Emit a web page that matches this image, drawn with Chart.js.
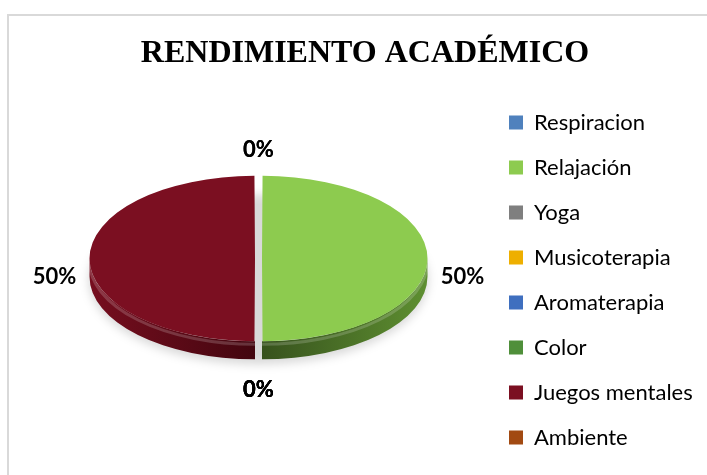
<!DOCTYPE html>
<html>
<head>
<meta charset="utf-8">
<script src="https://cdn.jsdelivr.net/npm/chart.js@4.4.1/dist/chart.umd.min.js"></script>
<style>
  html, body { margin: 0; padding: 0; background: #fff; }
  #wrap { position: relative; width: 707px; height: 475px; overflow: hidden; }
  #frame { position: absolute; left: 7px; top: 14px; width: 720px; height: 480px; border: 2px solid #d9d9d9; box-sizing: border-box; }
  #pieChart { position: absolute; left: 0; top: 0; }
</style>
</head>
<body>
<div id="wrap">
  <div id="frame"></div>
  <canvas id="pieChart" width="707" height="475"></canvas>
</div>
<script>
const chartTitle = 'RENDIMIENTO ACADÉMICO';
const categories = ['Respiracion', 'Relajación', 'Yoga', 'Musicoterapia', 'Aromaterapia', 'Color', 'Juegos mentales', 'Ambiente'];
const values = [0, 50, 0, 0, 0, 0, 50, 0];

// top face colours and the darker side (wall) colours
const sliceColors = ['#4f81bd', '#8dcb4f', '#7f7f7f', '#eeaf00', '#3f6fbf', '#4f8f3a', '#7b0f21', '#a24a12'];
const wallLight = ['#3d6594', '#5e8f31', '#606060', '#b88600', '#2f5694', '#3b6c2b', '#760e1f', '#7c380c'];
const wallDark = ['#2a4668', '#37521d', '#404040', '#7c5a00', '#203b66', '#274a1c', '#43060f', '#542508'];

// fake 3d look
const tilt = 0.5;
const depth = 18;
const lift = 20.75;

const pie3d = {
    id: 'pie3d',
    beforeDatasetsDraw(chart) {
        const ctx = chart.ctx;
        const meta = chart.getDatasetMeta(0);
        const first = meta.data[0];
        const cx = first.x;
        const cy = first.y;
        const ecy = cy - lift;

        // soft shadow under the pie
        ctx.save();
        ctx.filter = 'blur(5px)';
        ctx.fillStyle = 'rgba(0,0,0,0.15)';
        ctx.beginPath();
        const rShadow = first.outerRadius + 8;
        ctx.ellipse(cx, ecy + depth + 3, rShadow, rShadow * tilt, 0, 0, Math.PI * 2);
        ctx.fill();
        ctx.restore();

        // walls (front half only)
        meta.data.forEach((arc, i) => {
            const p = arc.getProps(['x', 'y', 'startAngle', 'endAngle', 'outerRadius', 'circumference']);
            if (!(p.circumference > 0)) return;
            const off = (arc.options.offset || 0) / 4;
            const fix = 1 - Math.sin(Math.min(Math.PI, p.circumference));
            const R = p.outerRadius + off * fix;
            const mid = (p.startAngle + p.endAngle) / 2;
            const ox = p.x + Math.cos(mid) * off;
            const oy = p.y - lift + Math.sin(mid) * off * tilt;
            const a = Math.max(p.startAngle, 0);
            const b = Math.min(p.endAngle, Math.PI);
            if (b <= a) return;
            const grad = ctx.createLinearGradient(ox - R, 0, ox + R, 0);
            grad.addColorStop(0, wallLight[i]);
            grad.addColorStop(0.5, wallDark[i]);
            grad.addColorStop(1, wallLight[i]);
            ctx.save();
            ctx.fillStyle = grad;
            ctx.beginPath();
            ctx.ellipse(ox, oy, R, R * tilt, 0, a, b);
            ctx.ellipse(ox, oy + depth, R, R * tilt, 0, b, a, true);
            ctx.closePath();
            ctx.fill();
            // light bevel line along the upper edge of the wall
            ctx.strokeStyle = 'rgba(255,255,255,0.18)';
            ctx.lineWidth = 3;
            ctx.beginPath();
            ctx.ellipse(ox, oy + 3, R, R * tilt, 0, a, b);
            ctx.stroke();
            ctx.restore();
        });

        // squash the top face
        ctx.save();
        ctx.translate(0, ecy);
        ctx.scale(1, tilt);
        ctx.translate(0, -cy);
    },
    afterDatasetsDraw(chart) {
        chart.ctx.restore();
    }
};

const pctLabels = {
    id: 'pctLabels',
    afterDraw(chart) {
        const ctx = chart.ctx;
        const meta = chart.getDatasetMeta(0);
        const total = values.reduce((s, v) => s + v, 0);
        ctx.save();
        ctx.font = 'bold 22px Lato';
        ctx.fillStyle = '#000';
        ctx.textAlign = 'center';
        ctx.textBaseline = 'middle';
        meta.data.forEach((arc, i) => {
            const mid = (arc.startAngle + arc.endAngle) / 2;
            const c = Math.cos(mid);
            const s = Math.sin(mid);
            const R = arc.outerRadius;
            const x = arc.x + c * (R + 42);
            const y = arc.y - lift + s * (R * tilt + 28) + (s >= 0 ? depth + 4 * s : depth * (1 + s));
            ctx.fillText(Math.round(values[i] / total * 100) + '%', x, y);
        });
        ctx.restore();
    }
};

const ctx = document.getElementById('pieChart').getContext('2d');
new Chart(ctx, {
    type: 'pie',
    data: {
        labels: categories,
        datasets: [{
            data: values,
            backgroundColor: sliceColors,
            borderWidth: 0,
            offset: 14,
            radius: 162,
            clip: false
        }]
    },
    options: {
        responsive: false,
        animation: false,
        events: [],
        layout: {
            padding: { top: 20, bottom: 3.5, left: 31, right: 8 }
        },
        plugins: {
            title: {
                display: true,
                text: chartTitle,
                color: '#000',
                font: { family: 'Liberation Serif', size: 32, weight: 'bold' },
                padding: { top: 14.3, bottom: 14.3 }
            },
            legend: {
                position: 'right',
                align: 'end',
                fullSize: false,
                maxWidth: 213,
                labels: {
                    color: '#000',
                    font: { family: 'Lato', size: 22 },
                    boxWidth: 14,
                    boxHeight: 14,
                    padding: 23
                }
            },
            tooltip: { enabled: false }
        }
    },
    plugins: [pie3d, pctLabels]
});
</script>
</body>
</html>
